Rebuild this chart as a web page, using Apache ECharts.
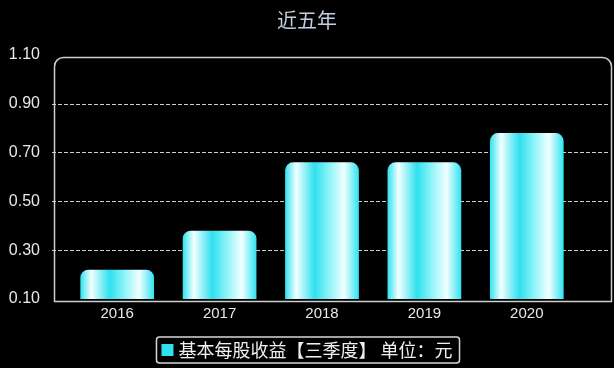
<!DOCTYPE html>
<html>
<head>
<meta charset="utf-8">
<script src="https://cdn.jsdelivr.net/npm/echarts@6/dist/echarts.min.js"></script>
<style>
html,body{margin:0;padding:0;background:#000;}
#c{width:614px;height:368px;}
</style>
</head>
<body>
<div id="c"></div>
<script>
const categories = ['2016', '2017', '2018', '2019', '2020'];
const values = [0.22, 0.38, 0.66, 0.66, 0.78];
const seriesName = '基本每股收益【三季度】 单位：元';
const titleText = '近五年';

const chart = echarts.init(document.getElementById('c'));
const barGradient = new echarts.graphic.LinearGradient(0, 0, 1, 0, [
  {offset: 0, color: '#2fe3f0'},
  {offset: 0.15, color: '#f2ffff'},
  {offset: 0.4, color: '#2fe0ee'},
  {offset: 0.6, color: '#8ff4f8'},
  {offset: 0.8, color: '#f2ffff'},
  {offset: 1, color: '#2fe3f0'}
]);
chart.setOption({
  backgroundColor: '#000',
  animation: false,
  title: {
    text: titleText, left: 'center', top: 5,
    textStyle: {color: '#c3cde0', fontSize: 20, fontWeight: 'normal', fontFamily: 'Noto Sans CJK SC'}
  },
  grid: [
    {left: 52, right: 5, top: 55, bottom: 69},
    {left: 66, right: 36, top: 55, bottom: 69}
  ],
  graphic: [{
    type: 'rect', left: 52, top: 55, z: 0,
    shape: {width: 557, height: 244, r: [9, 9, 0, 0]},
    style: {fill: 'none', stroke: '#cfcfcf', lineWidth: 1.5}
  }],
  legend: {
    bottom: 5, left: 'center',
    padding: [4, 7, 4, 5],
    borderColor: '#d8d8d8', borderWidth: 1.5, borderRadius: 3,
    itemWidth: 12, itemHeight: 12, itemGap: 4,
    icon: 'rect',
    textStyle: {color: '#f0f0f0', fontSize: 18, fontFamily: 'Noto Sans CJK SC'},
    data: [{name: seriesName, itemStyle: {color: '#2fe0ee'}}]
  },
  xAxis: [
    {gridIndex: 0, type: 'value', min: 0, max: 1, show: false},
    {
      gridIndex: 1, type: 'category', data: categories,
      axisLine: {show: false}, axisTick: {show: false},
      axisLabel: {color: '#e8e8e8', fontSize: 15, fontFamily: 'Arial, Liberation Sans', margin: 7}
    }
  ],
  yAxis: [
    {
      gridIndex: 0, type: 'value', min: 0.10, max: 1.10, interval: 0.20,
      axisLine: {show: false}, axisTick: {show: false},
      axisLabel: {color: '#e8e8e8', fontSize: 16, fontFamily: 'Arial, Liberation Sans', margin: 12,
        formatter: v => v.toFixed(2)},
      splitLine: {showMinLine: false, showMaxLine: false,
        lineStyle: {color: '#d0d0d0', type: [4, 2], width: 1}}
    },
    {
      gridIndex: 1, type: 'value', min: 0.10, max: 1.10, interval: 0.20, show: false,
      splitLine: {show: false}
    }
  ],
  series: [{
    name: seriesName, type: 'bar', data: values, barWidth: '72%',
    xAxisIndex: 1, yAxisIndex: 1,
    itemStyle: {color: barGradient, borderRadius: [8, 8, 0, 0]}
  }]
});
</script>
</body>
</html>
